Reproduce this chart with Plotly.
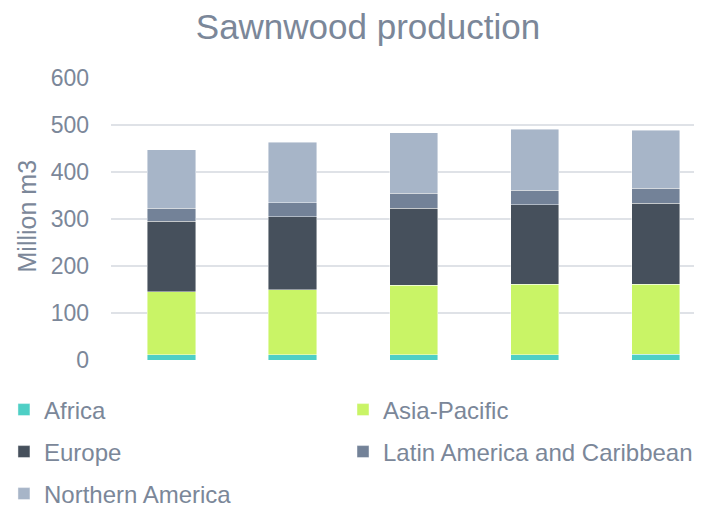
import plotly.graph_objects as go

categories = ["2014", "2015", "2016", "2017", "2018"]
africa = [11, 11, 11, 11, 12]
asia_pacific = [134, 138, 148, 150, 149]
europe = [150, 156, 164, 169, 172]
latin_america = [28, 30, 32, 31, 32]
northern_america = [124, 128, 128, 130, 124]

series_names = ["Africa", "Asia-Pacific", "Europe", "Latin America and Caribbean", "Northern America"]
series_values = [africa, asia_pacific, europe, latin_america, northern_america]
series_colors = ["#4ecfc5", "#c9f466", "#46505c", "#738298", "#a7b5c8"]
series_legends = ["legend", "legend2", "legend3", "legend4", "legend5"]

y_ticks = [0, 100, 200, 300, 400, 500, 600]
y_title = "Million m3"

text_color = "#7b8799"
font_family = "Liberation Sans, Arial, sans-serif"

fig = go.Figure()
for name, vals, col, lg in zip(series_names, series_values, series_colors, series_legends):
    fig.add_trace(go.Bar(
        x=categories, y=vals, name=name, legend=lg, showlegend=True,
        marker=dict(color=col, line=dict(color="rgba(255,255,255,0.55)", width=0.8)),
    ))

leg_common = dict(orientation="h", xanchor="left", yanchor="middle",
                  itemwidth=30, indentation=-10, visible=True,
                  font=dict(size=24, color=text_color, family=font_family),
                  bgcolor="rgba(0,0,0,0)")
col_x = [-0.1642, 0.4095]
row_y = [-0.1773, -0.3262, -0.4752]

fig.update_layout(
    barmode="stack",
    bargap=0.603,
    showlegend=True,
    width=702, height=507,
    margin=dict(l=103, r=8, t=70, b=155, autoexpand=False),
    paper_bgcolor="white", plot_bgcolor="white",
    font=dict(family=font_family, color=text_color, size=23),
    title=dict(text="Sawnwood production", x=0.5128, xanchor="center",
               y=1 - 19 / 507, yanchor="middle",
               font=dict(size=35, color=text_color, family=font_family)),
    xaxis=dict(showticklabels=False, showgrid=False, zeroline=False,
               showline=False, range=[-0.5, 4.384], fixedrange=True),
    yaxis=dict(range=[0, 600], tickvals=y_ticks, showgrid=True,
               gridcolor="#dfe2e7", gridwidth=1.5, zeroline=False, showline=False,
               ticklabelstandoff=21, automargin=False,
               tickfont=dict(size=23, color=text_color)),
    annotations=[dict(text=y_title, xref="paper", yref="paper",
                      x=-0.1421, y=0.509, xanchor="center", yanchor="middle",
                      textangle=-90, showarrow=False,
                      font=dict(size=25, color=text_color, family=font_family))],
    legend=dict(leg_common, x=col_x[0], y=row_y[0]),
    legend2=dict(leg_common, x=col_x[1], y=row_y[0]),
    legend3=dict(leg_common, x=col_x[0], y=row_y[1]),
    legend4=dict(leg_common, x=col_x[1], y=row_y[1]),
    legend5=dict(leg_common, x=col_x[0], y=row_y[2]),
)

fig.write_html("out.html")
